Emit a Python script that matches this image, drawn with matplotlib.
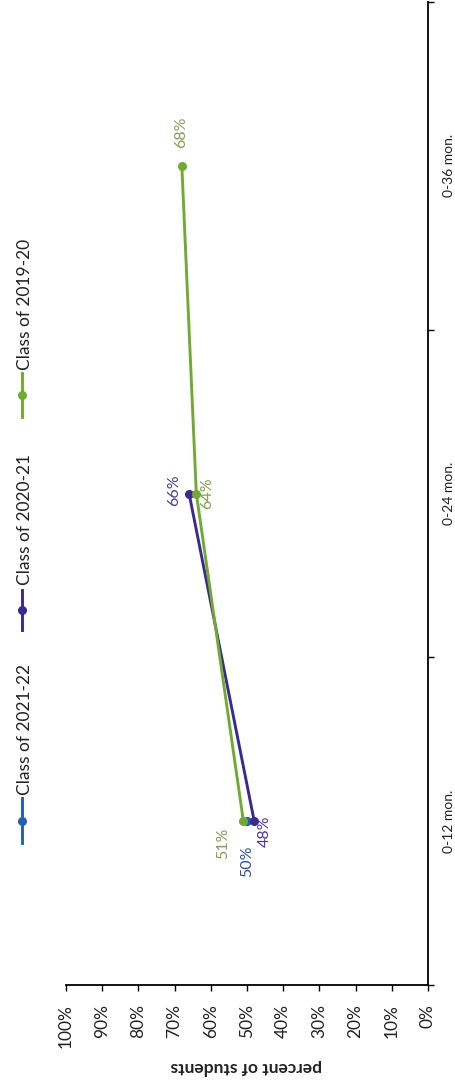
import matplotlib
matplotlib.use("Agg")
import matplotlib.pyplot as plt
from matplotlib.lines import Line2D

plt.rcParams['font.family'] = ['Lato', 'DejaVu Sans']

# Данные
categories = ["0-12 mon.", "0-24 mon.", "0-36 mon."]
series_names = ["Class of 2021-22", "Class of 2020-21", "Class of 2019-20"]
class_2021_22 = [50]
class_2020_21 = [48, 66]
class_2019_20 = [51, 64, 68]
pct_ticks = [100, 90, 80, 70, 60, 50, 40, 30, 20, 10, 0]

colors = ["#2461b0", "#3a2a8e", "#72a935"]
label_colors = ["#2c4f9c", "#4a3a90", "#7f9f4e"]
values = [class_2021_22, class_2020_21, class_2019_20]
# смещения подписей в пикселях (dx, dy вниз)
label_offsets = [
    [(0, -40)],
    [(11, -10), (-15, 3)],
    [(-20, -22), (11, 0), (-1, 34)],
]

W, H = 456, 1082
fig = plt.figure(figsize=(W / 100, H / 100), dpi=100)
ax = fig.add_axes([66 / W, 1 - 985 / H, (428 - 66) / W, (985 - 2) / H])

# график повернут: проценты по горизонтали (100% слева), категории по вертикали
for vals, col, lcol, offs in zip(values, colors, label_colors, label_offsets):
    ypos = [i + 0.5 for i in range(len(vals))]
    ax.plot(vals, ypos, color=col, lw=2.1, marker='o', ms=5.5, zorder=3)
    for v, y, (dx, dy) in zip(vals, ypos, offs):
        ax.annotate(f"{v}%", (v, y), xytext=(dx, dy), textcoords='offset pixels',
                    rotation=90, ha='center', va='center', color=lcol, fontsize=11.5)

ax.set_xlim(100, 0)
ax.set_ylim(0, 3)
ax.set_xticks(pct_ticks)
ax.set_xticklabels([f"{t}%" for t in pct_ticks], rotation=90, fontsize=12.5, color="#222222")
ax.tick_params(axis='x', length=4, width=1, pad=10, direction='out')

ax.yaxis.tick_right()
ax.set_yticks([0.5, 1.5, 2.5])
ax.set_yticklabels(categories, rotation=90, va='center', fontsize=10, color="#222222")
ax.set_yticks([0, 1, 2, 3], minor=True)
ax.tick_params(axis='y', which='major', length=0, pad=11)
ax.tick_params(axis='y', which='minor', length=4, width=1, direction='out')

ax.spines['left'].set_visible(False)
ax.spines['top'].set_visible(False)
ax.spines['right'].set_linewidth(1.3)
ax.spines['bottom'].set_linewidth(1.3)

fig.text(246 / W, 1 - 1067 / H, "percent of students", rotation=180, ha='center', va='center',
         fontsize=12.5, fontweight='bold', color="#222222")

# легенда (вертикальная)
leg_y = [(843, 798, 795), (630, 590, 585), (417, 373, 370)]
for name, col, (y0, y1, yt) in zip(series_names, colors, leg_y):
    fig.add_artist(Line2D([22 / W, 22 / W], [1 - y0 / H, 1 - y1 / H], color=col, lw=2.1,
                          transform=fig.transFigure))
    fig.add_artist(Line2D([22 / W], [1 - (y0 + y1) / 2 / H], color=col, marker='o', ms=5.5,
                          transform=fig.transFigure))
    fig.text(25 / W, 1 - yt / H, name, rotation=90, ha='center', va='bottom',
             fontsize=12.5, color="#222222")

fig.savefig("out.png", dpi=100)
